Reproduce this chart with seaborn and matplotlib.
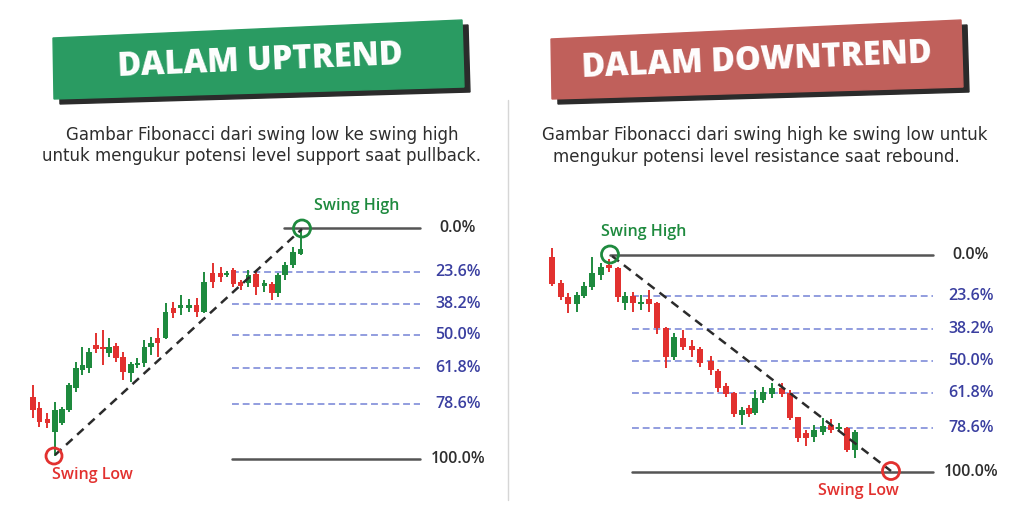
import numpy as np
import pandas as pd
import matplotlib
matplotlib.use("Agg")
import matplotlib.pyplot as plt
from matplotlib.patches import Circle, Polygon
import seaborn as sns

# ---------------- data (image units) ----------------
up_x = [32.7, 39.3, 47.3, 55, 62, 69, 75.7, 82.3, 89, 96, 102.7, 109, 115.7, 122.7, 130.7, 137.3,
        144.3, 151, 157.7, 165.7, 173.3, 180.7, 189, 196.7, 204, 212.7, 220.7, 226.7, 233.3, 240.7,
        248.3, 255.7, 264.3, 271.7, 277.7, 285, 292.7, 300.5]
up_open = [397, 408, 419, 432, 423, 410, 388, 370, 368, 345, 346.5, 353, 346, 357, 373, 365,
           363, 347, 338, 338, 308, 307.5, 308, 305, 312, 273, 273, 275, 270, 282,
           283, 274, 286, 284, 293, 275, 265, 254]
up_close = [410, 422, 423, 410, 409, 385, 368, 365, 352, 349, 348.5, 347, 358, 372, 364, 362.5,
            347, 343, 343, 312, 313, 305, 305, 312, 282, 282, 277, 273, 284, 286,
            275, 287, 283, 293, 275, 265, 252, 249]
up_high = [385, 402, 413, 402, 407, 383, 362, 347, 348, 333, 330, 338, 343, 352, 362, 358,
           340, 337, 328, 303, 302, 295, 299, 298, 272, 263, 267, 271, 268, 280,
           270, 272, 280, 282, 273, 262, 247, 230]
up_low = [418, 427, 428, 456, 425, 412, 392, 375, 373, 353, 365, 357, 362, 380, 382, 368,
          367, 355, 357, 339, 318, 315, 312, 317, 313, 288, 282, 277, 287, 290,
          287, 295, 292, 300, 297, 280, 268, 255]

down_x = [551.7, 560.7, 568.3, 576.7, 584, 592.3, 601, 609.3, 617.7, 625, 633.3, 641, 649, 657.3,
          666, 674, 682.7, 691.7, 700, 710.7, 718.3, 726, 734.3, 741.7, 749, 755, 763.3, 772.3,
          781.7, 790, 798.3, 806, 814.3, 822.7, 830.7, 839.3, 847.3, 855]
down_open = [257, 283, 297, 304, 296, 287, 275, 265, 268, 303, 296, 304, 299, 303,
             328, 357, 338, 346, 349, 361, 371, 386, 393, 415, 408, 413, 400, 394,
             388, 393, 417, 433, 437, 432, 425, 429, 428, 450]
down_close = [284, 297, 304, 295, 286, 273, 267, 268, 297, 296, 303, 302, 304, 328,
              357, 337, 347, 350, 363, 370, 388, 394, 414, 410, 414, 398, 392, 388,
              394, 418, 438, 438, 430, 426, 430, 427, 450, 432]
down_high = [248, 280, 293, 292, 282, 257, 263, 259, 267, 292, 292, 295, 290, 302,
             327, 333, 330, 340, 347, 356, 369, 383, 392, 407, 405, 390, 387, 383,
             383, 390, 417, 430, 425, 418, 419, 423, 427, 430]
down_low = [286, 300, 313, 312, 298, 290, 280, 272, 302, 310, 312, 310, 312, 334,
            368, 360, 350, 357, 367, 375, 392, 397, 417, 425, 417, 415, 403, 398,
            397, 420, 442, 446, 442, 435, 433, 432, 452, 458]

fib_labels = ["0.0%", "23.6%", "38.2%", "50.0%", "61.8%", "78.6%", "100.0%"]
up_levels = [228, 272, 304, 335, 368, 404, 459]
down_levels = [255, 296, 329, 361, 393, 428, 472]

# ---------------- style ----------------
sns.set_theme(style="white")
plt.rcParams['font.family'] = ['Open Sans', 'DejaVu Sans']

GREEN = "#1e8a3e"
RED = "#e2312f"
FIB_BLUE = "#7483d6"
LABEL_BLUE = "#3a3fa0"
DARK = "#2e2e2e"

fig = plt.figure(figsize=(10.24, 5.29), dpi=100)
ax = fig.add_axes([0, 0, 1, 1])
ax.set_xlim(0, 1024)
ax.set_ylim(529, 0)
ax.axis("off")
fig.patch.set_facecolor("white")


def candles(x, o, c, h, l, width):
    df = pd.DataFrame({"x": x, "o": o, "c": c, "h": h, "l": l})
    df["color"] = np.where(df["c"] <= df["o"], GREEN, RED)
    ax.vlines(df["x"], df["l"], df["h"], colors=df["color"], lw=1.4, zorder=3)
    top = np.minimum(df["o"], df["c"])
    height = np.maximum(np.abs(df["o"] - df["c"]), 1.8)
    ax.bar(df["x"], height, bottom=top, width=width, color=df["color"],
           edgecolor="none", zorder=4)


def fib(levels, x0, x1, xs0, label_x):
    for i, (lv, lab) in enumerate(zip(levels, fib_labels)):
        if i == 0 or i == len(levels) - 1:
            ax.plot([xs0 if i == 0 else x0, x1], [lv, lv], color="#555555", lw=1.8, zorder=2)
            col = DARK
        else:
            ax.plot([x0, x1], [lv, lv], color=FIB_BLUE, lw=1.1, ls=(0, (4.5, 2.5)), zorder=1)
            col = LABEL_BLUE
        ax.text(label_x, lv, lab, ha="center", va="center", fontsize=11.5,
                color=col, fontweight="semibold")


# ---------------- banners ----------------
def banner(poly, color, text, cx, cy):
    shadow = [(px + 6, py + 5) for px, py in poly]
    ax.add_patch(Polygon(shadow, closed=True, color="#2b2b2b", zorder=1))
    ax.add_patch(Polygon(poly, closed=True, color=color, zorder=2))
    ax.text(cx, cy, text, ha="center", va="center", rotation=2.4, fontsize=23.5,
            color="white", fontweight="heavy", zorder=3)


banner([(53, 38), (462, 20), (464, 87), (54, 99)], "#2a9b62", "DALAM UPTREND", 260, 61)
banner([(551, 39), (961, 20), (963, 87), (552, 99)], "#c0605b", "DALAM DOWNTREND", 757, 61)

# subtitles
sub_kw = dict(ha="center", va="center", fontsize=12, color=DARK, family=["DejaVu Sans"])
ax.text(262, 135, "Gambar Fibonacci dari swing low ke swing high", **sub_kw)
ax.text(262, 156, "untuk mengukur potensi level support saat pullback.", **sub_kw)
ax.text(765, 135, "Gambar Fibonacci dari swing high ke swing low untuk", **sub_kw)
ax.text(756, 157, "mengukur potensi level resistance saat rebound.", **sub_kw)

# separator
ax.plot([508, 508], [100, 500], color="#d6d6d6", lw=1)

# ---------------- left panel (uptrend) ----------------
fib(up_levels, 232, 420, 284, 458)
candles(up_x, up_open, up_close, up_high, up_low, 5.6)
sns.lineplot(x=[55, 302], y=[455, 229], ax=ax, color="#2b2b2b", lw=1.8,
             linestyle=(0, (3.5, 2.5)), zorder=5)
ax.add_patch(Circle((302, 228.5), 8.5, fill=False, ec=GREEN, lw=2, zorder=6))
ax.add_patch(Circle((54, 456), 8, fill=False, ec=RED, lw=2, zorder=6))
ax.text(357, 206, "Swing High", ha="center", va="center", fontsize=11.5, color=GREEN,
        fontweight="semibold")
ax.text(92, 475, "Swing Low", ha="center", va="center", fontsize=11.5, color=RED,
        fontweight="semibold")

# ---------------- right panel (downtrend) ----------------
fib(down_levels, 632, 933, 610, 971)
candles(down_x, down_open, down_close, down_high, down_low, 6.4)
sns.lineplot(x=[612, 891], y=[256, 471], ax=ax, color="#2b2b2b", lw=1.8,
             linestyle=(0, (3.5, 2.5)), zorder=5)
ax.add_patch(Circle((610, 254.5), 8.5, fill=False, ec=GREEN, lw=2, zorder=6))
ax.add_patch(Circle((891, 471), 8.5, fill=False, ec=RED, lw=2, zorder=6))
ax.text(644, 232, "Swing High", ha="center", va="center", fontsize=11.5, color=GREEN,
        fontweight="semibold")
ax.text(858, 491, "Swing Low", ha="center", va="center", fontsize=11.5, color=RED,
        fontweight="semibold")

legend = ax.get_legend()
if legend is not None:
    legend.remove()

fig.savefig("out.png", dpi=100, facecolor="white")
